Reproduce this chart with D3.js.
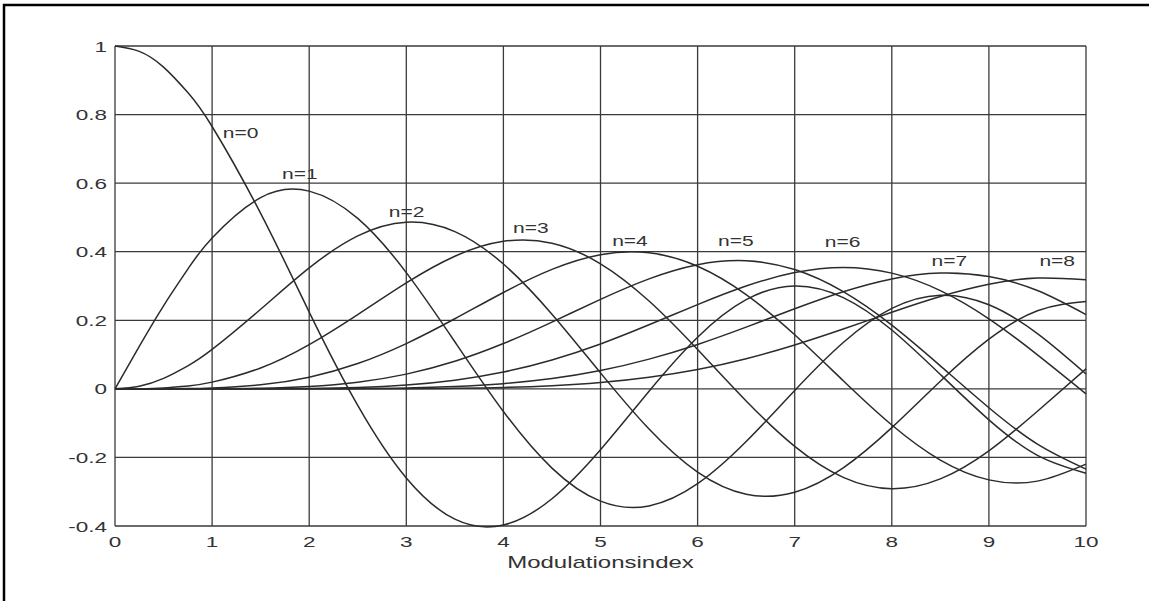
<!DOCTYPE html>
<html>
<head>
<meta charset="utf-8">
<script src="https://cdn.jsdelivr.net/npm/d3@7"></script>
<style>
body{margin:0;background:#fff;}
text{font-family:"Liberation Sans",Arial,sans-serif;fill:#333;}
</style>
</head>
<body>
<svg id="svg1" width="1149" height="601"></svg>
<script>
// x values (Modulationsindex) and the curve for each n
const xs = [0,0.25,0.5,0.75,1,1.5,2,2.5,3,3.5,4,4.5,5,5.5,6,6.5,7,7.5,8,8.5,9,9.5,10];
const n0 = [1,0.9844,0.9385,0.8642,0.7652,0.5118,0.2239,-0.0484,-0.2601,-0.3801,-0.3971,-0.3205,-0.1776,-0.0068,0.1506,0.2601,0.3001,0.2663,0.1717,0.0419,-0.0903,-0.1939,-0.2459];
const n1 = [0,0.1240,0.2423,0.3492,0.4401,0.5579,0.5767,0.4971,0.3391,0.1374,-0.0660,-0.2311,-0.3276,-0.3414,-0.2767,-0.1538,-0.0047,0.1352,0.2346,0.2731,0.2453,0.1613,0.0435];
const n2 = [0,0.0078,0.0306,0.0671,0.1149,0.2321,0.3528,0.4461,0.4861,0.4586,0.3641,0.2178,0.0466,-0.1173,-0.2429,-0.3074,-0.3014,-0.2303,-0.1130,0.0223,0.1448,0.2279,0.2546];
const n3 = [0,0.0003,0.0026,0.0085,0.0196,0.0610,0.1289,0.2167,0.3091,0.3868,0.4302,0.4247,0.3648,0.2561,0.1148,-0.0354,-0.1676,-0.2581,-0.2911,-0.2626,-0.1809,-0.0653,0.0584];
const n4 = [0,0,0.0002,0.0008,0.0025,0.0118,0.0340,0.0739,0.1321,0.2044,0.2811,0.3484,0.3912,0.3967,0.3576,0.2748,0.1578,0.0238,-0.1054,-0.2077,-0.2655,-0.2691,-0.2196];
const n5 = [0,0,0,0.0001,0.0002,0.0018,0.0070,0.0195,0.0430,0.0804,0.1321,0.1947,0.2611,0.3209,0.3621,0.3736,0.3479,0.2835,0.1858,0.0671,-0.0550,-0.1613,-0.2341];
const n6 = [0,0,0,0,0,0.0002,0.0012,0.0042,0.0114,0.0254,0.0491,0.0844,0.1310,0.1868,0.2458,0.2999,0.3392,0.3542,0.3376,0.2866,0.2043,0.0993,-0.0145];
const n7 = [0,0,0,0,0,0,0.0002,0.0008,0.0025,0.0068,0.0152,0.0300,0.0534,0.0867,0.1296,0.1801,0.2336,0.2832,0.3206,0.3376,0.3275,0.2868,0.2167];
const n8 = [0,0,0,0,0,0,0,0.0001,0.0005,0.0015,0.0040,0.0091,0.0184,0.0339,0.0565,0.0880,0.1280,0.1744,0.2235,0.2694,0.3051,0.3233,0.3179];
const curves = [n0,n1,n2,n3,n4,n5,n6,n7,n8];

// curve labels and where they sit (data units)
const labels = ["n=0","n=1","n=2","n=3","n=4","n=5","n=6","n=7","n=8"];
const labelX = [1.11,1.72,2.82,4.10,5.12,6.21,7.31,8.41,9.52];
const labelY = [0.732,0.612,0.501,0.455,0.417,0.417,0.413,0.358,0.358];

const xTicks = [0,1,2,3,4,5,6,7,8,9,10];
const yTicks = [-0.4,-0.2,0,0.2,0.4,0.6,0.8,1];
const xTitle = "Modulationsindex";

const svg = d3.select('#svg1');
const stretch = 'scale(1.5,1)';  // the scan is wider than tall

// outer frame
svg.append('rect')
  .attr('x',4).attr('y',5).attr('width',1160).attr('height',620)
  .attr('fill','none').attr('stroke','#000').attr('stroke-width',2.5);

const xScale = d3.scaleLinear().domain([0,10]).range([115,1086]);
const yScale = d3.scaleLinear().domain([-0.4,1]).range([526,46]);

// grid
svg.append('g').selectAll('line').data(xTicks).join('line')
  .attr('x1',d=>xScale(d)).attr('x2',d=>xScale(d))
  .attr('y1',yScale(1)).attr('y2',yScale(-0.4))
  .attr('stroke','#3a3a3a').attr('stroke-width',1.3);
svg.append('g').selectAll('line').data(yTicks).join('line')
  .attr('x1',xScale(0)).attr('x2',xScale(10))
  .attr('y1',d=>yScale(d)).attr('y2',d=>yScale(d))
  .attr('stroke','#3a3a3a').attr('stroke-width',1.3);

// tick labels
svg.append('g').selectAll('text').data(yTicks).join('text')
  .attr('transform',d=>`translate(107,${yScale(d)+5.5}) ${stretch}`)
  .attr('text-anchor','end')
  .style('font-size','15px')
  .text(d=>String(+d.toFixed(1)));
svg.append('g').selectAll('text').data(xTicks).join('text')
  .attr('transform',d=>`translate(${xScale(d)},${547}) ${stretch}`)
  .attr('text-anchor','middle')
  .style('font-size','15px')
  .text(d=>d);
svg.append('text')
  .attr('transform',`translate(${(xScale(0)+xScale(10))/2},568) ${stretch}`)
  .attr('text-anchor','middle')
  .style('font-size','16px')
  .text(xTitle);

// curves
const line = d3.line()
  .x((d,i)=>xScale(xs[i]))
  .y(d=>yScale(d))
  .curve(d3.curveNatural);
svg.append('g').selectAll('path').data(curves).join('path')
  .attr('d',line)
  .attr('fill','none')
  .attr('stroke','#2b2b2b')
  .attr('stroke-width',1.5);

// curve labels
svg.append('g').selectAll('text').data(labels).join('text')
  .attr('transform',(d,i)=>`translate(${xScale(labelX[i])},${yScale(labelY[i])}) ${stretch}`)
  .style('font-size','14px')
  .text(d=>d);
</script>
</body>
</html>
